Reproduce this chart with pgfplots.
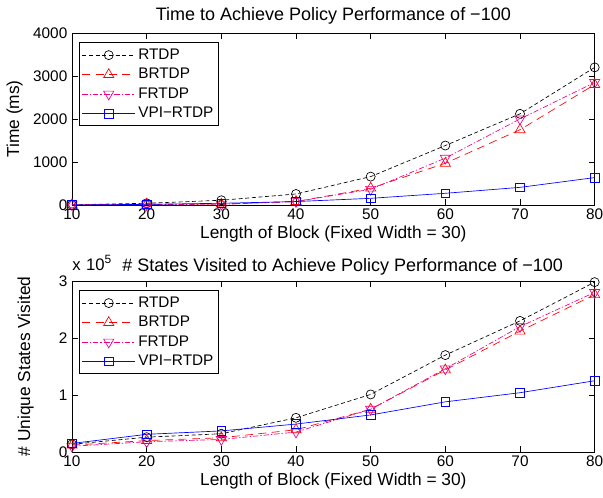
\documentclass[border=0pt]{standalone}
\usepackage{fontspec}
\setmainfont{Liberation Sans}
\usepackage{pgfplots}
\pgfplotsset{compat=1.18}

\pgfplotsset{
    matstyle/.style={
        scale only axis,
        width=392pt,
        xmin=10, xmax=80,
        xtick={10,20,...,80},
        tick align=inside,
        major tick length=4.5pt,
        axis line style={black, line width=0.6pt},
        tick style={black, line width=0.5pt},
        ticklabel style={font=\fontsize{11.5}{13}\selectfont},
        xticklabel style={yshift=1pt},
        label style={font=\fontsize{13}{15}\selectfont},
        title style={font=\fontsize{13.5}{15}\selectfont},
        /pgf/number format/assume math mode=true,
        /pgf/number format/1000 sep={},
        legend style={at={(0.013,0.945)}, anchor=north west, draw=black, line width=0.6pt,
            font=\fontsize{11.5}{13}\selectfont, row sep=1.2pt, inner xsep=2pt, inner ysep=2.5pt,
            nodes={inner sep=2pt}},
        legend cell align=left,
        legend image code/.code={
            \draw[mark repeat=2, mark phase=2]
            plot coordinates {(0cm,0cm) (0.7cm,0cm) (1.4cm,0cm)};
        },
        xlabel={Length of Block (Fixed Width = 30)},
        xlabel style={yshift=2pt},
    },
    rtdp/.style={black, line width=0.5pt, dash pattern=on 3pt off 2pt, mark=o, mark size=3.4pt, mark options={solid}},
    brtdp/.style={red, line width=0.5pt, dash pattern=on 6pt off 4pt, mark=triangle, mark size=4.4pt, mark options={solid}},
    frtdp/.style={magenta, line width=0.5pt, dash pattern=on 4pt off 1.5pt on 1pt off 1.5pt, mark=triangle, mark size=4.4pt, mark options={solid, rotate=180}},
    vpi/.style={blue, line width=0.5pt, solid, mark=square, mark size=3.2pt},
}

\begin{document}
\begin{tikzpicture}
\useasboundingbox (-54pt,24.75pt) rectangle (398.25pt,-348.75pt);
\begin{axis}[
    matstyle,
    at={(0pt,0pt)}, anchor=north west,
    height=129pt,
    ymin=0, ymax=4000,
    ytick={0,1000,2000,3000,4000},
    ylabel={Time (ms)},
    ylabel style={yshift=1pt},
    title={Time to Achieve Policy Performance of −100},
    title style={yshift=-3pt},
]
\addplot[rtdp] coordinates {(10,5) (20,40) (30,110) (40,256) (50,660) (60,1383) (70,2120) (80,3200)};
\addlegendentry{RTDP}
\addplot[brtdp] coordinates {(10,5) (20,20) (30,20) (40,80) (50,390) (60,970) (70,1750) (80,2800)};
\addlegendentry{BRTDP}
\addplot[frtdp] coordinates {(10,5) (20,10) (30,15) (40,80) (50,365) (60,1090) (70,2000) (80,2850)};
\addlegendentry{FRTDP}
\addplot[vpi] coordinates {(10,0) (20,15) (30,40) (40,80) (50,155) (60,272) (70,410) (80,637)};
\addlegendentry{VPI−RTDP}
\end{axis}

\begin{axis}[
    matstyle,
    at={(0pt,-186pt)}, anchor=north west,
    height=128.25pt,
    ymin=0, ymax=3,
    ytick={0,1,2,3},
    ylabel={\# Unique States Visited},
    ylabel style={yshift=12pt},
    title={\# States Visited to Achieve Policy Performance of −100},
    title style={xshift=7pt, yshift=-5pt},
    after end axis/.code={
        \node[anchor=base west, inner sep=0pt, font=\fontsize{12.5}{14}\selectfont]
            at ([yshift=8pt]rel axis cs:0,1) {x\,\,10\raisebox{0.8ex}{\fontsize{9}{10}\selectfont 5}};
    },
]
\addplot[rtdp] coordinates {(10,0.135) (20,0.26) (30,0.32) (40,0.6) (50,1.01) (60,1.7) (70,2.3) (80,2.98)};
\addlegendentry{RTDP}
\addplot[brtdp] coordinates {(10,0.12) (20,0.2) (30,0.25) (40,0.39) (50,0.75) (60,1.44) (70,2.12) (80,2.76)};
\addlegendentry{BRTDP}
\addplot[frtdp] coordinates {(10,0.1) (20,0.18) (30,0.22) (40,0.35) (50,0.75) (60,1.46) (70,2.2) (80,2.8)};
\addlegendentry{FRTDP}
\addplot[vpi] coordinates {(10,0.15) (20,0.31) (30,0.37) (40,0.49) (50,0.65) (60,0.88) (70,1.04) (80,1.25)};
\addlegendentry{VPI−RTDP}
\end{axis}
\end{tikzpicture}
\end{document}
